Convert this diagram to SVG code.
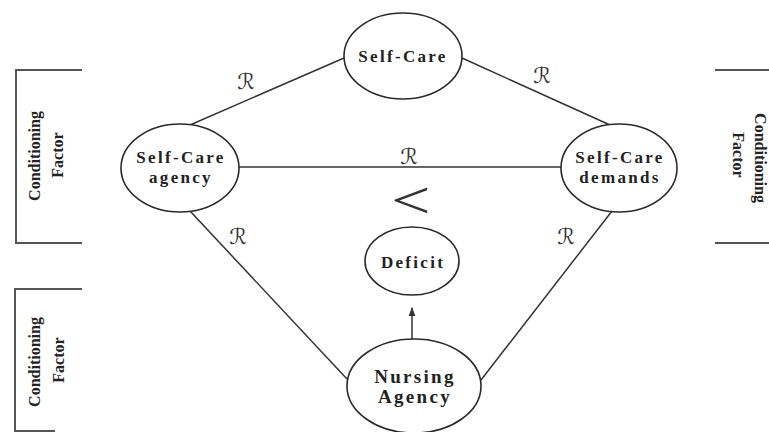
<svg xmlns="http://www.w3.org/2000/svg" width="769" height="432" viewBox="0 0 769 432">
<style>
.node ellipse{fill:#fff;stroke:#2a2a2a;stroke-width:1.6}
.node text{font-family:"Liberation Serif","Times New Roman",serif;font-weight:bold;font-size:17px;letter-spacing:2.3px;fill:#222;text-anchor:middle}
.conn line{stroke:#333;stroke-width:1.5}
.rl{font-family:"DejaVu Serif","DejaVu Sans",serif;font-size:22px;fill:#333;text-anchor:middle}
.br{stroke:#555;stroke-width:2;fill:none}
.cf{font-family:"Liberation Serif","Times New Roman",serif;font-weight:bold;font-size:16px;fill:#222;text-anchor:middle}
</style>
<defs>
<marker id="ah" viewBox="0 0 8 8" refX="7" refY="4" markerWidth="6" markerHeight="6" orient="auto">
<path d="M0,1 L8,4 L0,7 z" fill="#333"/>
</marker>
</defs>
<rect width="769" height="432" fill="#fff"/>
<g id="conditioning-factors">
<path class="br" d="M82,70 H16 V243 H82"/>
<text class="cf" transform="translate(40,156) rotate(-90)">Conditioning</text>
<text class="cf" transform="translate(63,155) rotate(-90)">Factor</text>
<path class="br" d="M82,289 H15 V431 H55"/>
<text class="cf" transform="translate(40,362) rotate(-90)">Conditioning</text>
<text class="cf" transform="translate(64,360) rotate(-90)">Factor</text>
<path class="br" d="M715,70 H769 M715,243 H769"/>
<text class="cf" transform="translate(755,158) rotate(90)">Conditioning</text>
<text class="cf" transform="translate(733,155) rotate(90)">Factor</text>
</g>
<g id="connectors" class="conn">
<line x1="190" y1="125" x2="344" y2="58"/>
<line x1="462" y1="58" x2="610" y2="125"/>
<line x1="239" y1="167" x2="561" y2="167"/>
<line x1="190" y1="211" x2="347" y2="379"/>
<line x1="612" y1="211" x2="481" y2="380"/>
<line x1="412" y1="339" x2="412" y2="308" marker-end="url(#ah)"/>
<text class="rl" x="246" y="89">ℛ</text>
<text class="rl" x="542" y="83">ℛ</text>
<text class="rl" x="409" y="164">ℛ</text>
<text class="rl" x="238" y="244">ℛ</text>
<text class="rl" x="566" y="244">ℛ</text>
<text x="0" y="0" transform="translate(391,218) scale(1.35,1)" font-family="Liberation Serif, serif" font-size="52" fill="#333">&lt;</text>
</g>
<g id="self-care" class="node">
<ellipse cx="403" cy="56" rx="59" ry="43"/>
<text x="403" y="62">Self-Care</text>
</g>
<g id="self-care-agency" class="node">
<ellipse cx="180" cy="168" rx="59" ry="44"/>
<text x="181" y="163">Self-Care</text>
<text x="181" y="183">agency</text>
</g>
<g id="self-care-demands" class="node">
<ellipse cx="619" cy="168" rx="58" ry="44"/>
<text x="620" y="163">Self-Care</text>
<text x="620" y="183">demands</text>
</g>
<g id="deficit" class="node">
<ellipse cx="412" cy="261" rx="47" ry="34"/>
<text x="413" y="268">Deficit</text>
</g>
<g id="nursing-agency" class="node">
<ellipse cx="414" cy="386" rx="67" ry="47"/>
<text x="415" y="383" style="font-size:19px">Nursing</text>
<text x="415" y="403" style="font-size:19px">Agency</text>
</g>
</svg>
